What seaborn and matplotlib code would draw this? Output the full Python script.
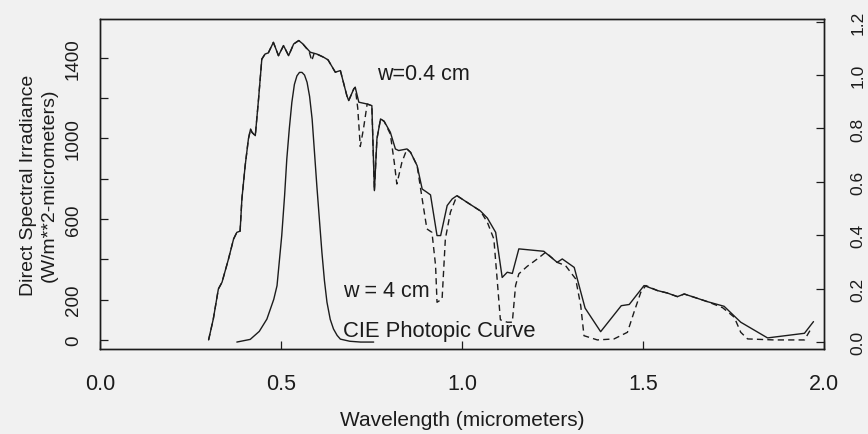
import matplotlib
matplotlib.use("Agg")
import matplotlib.pyplot as plt
import seaborn as sns
import pandas as pd

# ---- data ----
# Direct spectral irradiance, precipitable water w = 0.4 cm (solid)
wl_thin = [0.300, 0.313, 0.327, 0.337, 0.355, 0.369, 0.378, 0.387, 0.392, 0.401,
           0.410, 0.416, 0.420, 0.429, 0.438, 0.447, 0.456, 0.465, 0.479, 0.493,
           0.507, 0.521, 0.535, 0.549, 0.560, 0.581, 0.599, 0.618, 0.630, 0.650,
           0.664, 0.682, 0.687, 0.701, 0.705, 0.715, 0.738, 0.751, 0.758, 0.765,
           0.775, 0.785, 0.802, 0.816, 0.825, 0.848, 0.858, 0.876, 0.890, 0.903,
           0.913, 0.931, 0.941, 0.959, 0.973, 0.986, 1.014, 1.051, 1.070, 1.093,
           1.111, 1.125, 1.139, 1.157, 1.226, 1.263, 1.277, 1.310, 1.340, 1.383,
           1.440, 1.462, 1.503, 1.540, 1.567, 1.595, 1.614, 1.641, 1.678, 1.724,
           1.770, 1.844, 1.946, 1.971]
irr_thin = [0, 104, 253, 286, 402, 501, 534, 540, 700, 865,
            998, 1047, 1030, 1014, 1196, 1394, 1419, 1425, 1477, 1411,
            1461, 1411, 1469, 1486, 1470, 1428, 1419, 1403, 1390, 1329,
            1337, 1212, 1188, 1246, 1254, 1180, 1171, 1163, 741, 998,
            1097, 1085, 1031, 948, 940, 948, 931, 865, 749, 733,
            720, 518, 518, 667, 700, 716, 683, 640, 605, 534,
            310, 336, 330, 452, 440, 385, 402, 360, 158, 41,
            170, 176, 270, 245, 233, 215, 228, 212, 190, 167,
            88, 10, 33, 91]

# Direct spectral irradiance, w = 4 cm (dashed)
wl_thick = [0.300, 0.313, 0.327, 0.337, 0.355, 0.369, 0.378, 0.387, 0.392, 0.401,
            0.410, 0.416, 0.420, 0.429, 0.438, 0.447, 0.456, 0.465, 0.479, 0.493,
            0.507, 0.521, 0.535, 0.549, 0.560, 0.578, 0.585, 0.592, 0.599, 0.618,
            0.630, 0.650, 0.664, 0.682, 0.687, 0.701, 0.705, 0.712, 0.719, 0.728,
            0.738, 0.751, 0.758, 0.765, 0.775, 0.785, 0.802, 0.813, 0.820, 0.834,
            0.848, 0.858, 0.876, 0.890, 0.903, 0.917, 0.927, 0.931, 0.945, 0.954,
            0.968, 0.986, 1.014, 1.051, 1.070, 1.088, 1.097, 1.106, 1.125, 1.139,
            1.148, 1.157, 1.180, 1.208, 1.231, 1.263, 1.286, 1.314, 1.328, 1.337,
            1.374, 1.420, 1.457, 1.475, 1.494, 1.508, 1.540, 1.567, 1.595, 1.614,
            1.641, 1.678, 1.720, 1.752, 1.770, 1.789, 1.862, 1.946, 1.964]
irr_thick = [0, 104, 253, 286, 402, 501, 534, 540, 700, 865,
             998, 1047, 1030, 1014, 1196, 1394, 1419, 1425, 1477, 1411,
             1461, 1411, 1469, 1486, 1470, 1430, 1386, 1425, 1419, 1403,
             1390, 1329, 1337, 1212, 1188, 1246, 1254, 1150, 960, 1050,
             1171, 1163, 741, 998, 1097, 1085, 1022, 880, 774, 882,
             948, 931, 865, 700, 551, 534, 369, 187, 203, 501,
             634, 716, 683, 640, 584, 501, 303, 100, 88, 88,
             270, 328, 365, 402, 435, 385, 369, 303, 170, 21,
             0, 5, 38, 137, 237, 270, 245, 233, 215, 228,
             212, 190, 160, 113, 38, 5, 0, 0, 55]

# CIE photopic luminosity curve (right axis)
wl_cie = [0.378, 0.415, 0.440, 0.461, 0.480, 0.489, 0.502, 0.510, 0.516, 0.523,
          0.530, 0.537, 0.544, 0.551, 0.558, 0.565, 0.572, 0.579, 0.586, 0.592,
          0.599, 0.606, 0.613, 0.620, 0.627, 0.636, 0.645, 0.655, 0.664, 0.690,
          0.720, 0.756]
v_cie = [0.0, 0.01, 0.04, 0.086, 0.16, 0.211, 0.398, 0.55, 0.685, 0.80,
         0.898, 0.965, 0.997, 1.01, 1.01, 1.0, 0.973, 0.92, 0.835, 0.72,
         0.585, 0.46, 0.336, 0.23, 0.149, 0.085, 0.049, 0.025, 0.011, 0.003,
         0.0, 0.0]

x_ticks = [0.0, 0.5, 1.0, 1.5, 2.0]
x_ticklabels = ["0.0", "0.5", "1.0", "1.5", "2.0"]
y_ticks = [0, 200, 400, 600, 800, 1000, 1200, 1400]
y_ticklabels = ["0", "200", "", "600", "", "1000", "", "1400"]
r_ticks = [0.0, 0.2, 0.4, 0.6, 0.8, 1.0, 1.2]
r_ticklabels = ["0.0", "0.2", "0.4", "0.6", "0.8", "1.0", "1.2"]

# ---- styling ----
sns.set_style("ticks")
plt.rcParams["font.family"] = ["Liberation Sans", "DejaVu Sans"]
BG = "#f1f1f1"
INK = "#1c1c1c"

fig = plt.figure(figsize=(8.68, 4.35), dpi=100, facecolor=BG)
ax = fig.add_axes([100 / 868, 1 - 350 / 435, 724 / 868, 330 / 435])
ax.set_facecolor(BG)

df_thin = pd.DataFrame({"wl": wl_thin, "irr": irr_thin})
df_thick = pd.DataFrame({"wl": wl_thick, "irr": irr_thick})
df_cie = pd.DataFrame({"wl": wl_cie, "v": v_cie})

sns.lineplot(data=df_thin, x="wl", y="irr", ax=ax, color=INK, linewidth=1.0,
             estimator=None, sort=False)
l2 = sns.lineplot(data=df_thick, x="wl", y="irr", ax=ax, color=INK, linewidth=1.0,
                  estimator=None, sort=False)
l2.lines[-1].set_dashes([4.5, 3.0])

ax.set_xlim(0, 2.0)
ax.set_ylim(-45, 1593)
ax.set_xticks(x_ticks)
ax.set_xticklabels(x_ticklabels, fontsize=15.5)
ax.set_yticks(y_ticks)
ax.set_yticklabels(y_ticklabels, rotation=90, va="center", fontsize=13.5)
ax.tick_params(axis="x", direction="in", length=6, width=0.9, pad=17, colors=INK)
ax.tick_params(axis="y", direction="in", length=6, width=0.9, pad=13, colors=INK)
ax.set_xlabel("Wavelength (micrometers)", fontsize=15, labelpad=12, color=INK)
ax.set_ylabel("Direct Spectral Irradiance\n(W/m**2-micrometers)", fontsize=14,
              labelpad=5, color=INK, linespacing=1.3)
for s in ax.spines.values():
    s.set_visible(True)
    s.set_color(INK)
    s.set_linewidth(1.0)

ax.text(0.765, 1320, "w=0.4 cm", fontsize=15.5, ha="left", va="center", color=INK)
ax.text(0.672, 243, "w = 4 cm", fontsize=15.5, ha="left", va="center", color=INK)
ax.text(0.672, 45, "CIE Photopic Curve", fontsize=15.8, ha="left", va="center", color=INK)

ax2 = ax.twinx()
sns.lineplot(data=df_cie, x="wl", y="v", ax=ax2, color=INK, linewidth=1.0,
             estimator=None, sort=False)
ax2.set_ylim(-0.026, 1.21)
ax2.set_yticks(r_ticks)
ax2.set_yticklabels(r_ticklabels, rotation=90, va="center", fontsize=12.5)
ax2.tick_params(axis="y", direction="in", length=6, width=0.9, pad=19, colors=INK)
ax2.set_ylabel("")
for s in ax2.spines.values():
    s.set_color(INK)
    s.set_linewidth(1.0)

fig.savefig("out.png", dpi=100, facecolor=BG)
